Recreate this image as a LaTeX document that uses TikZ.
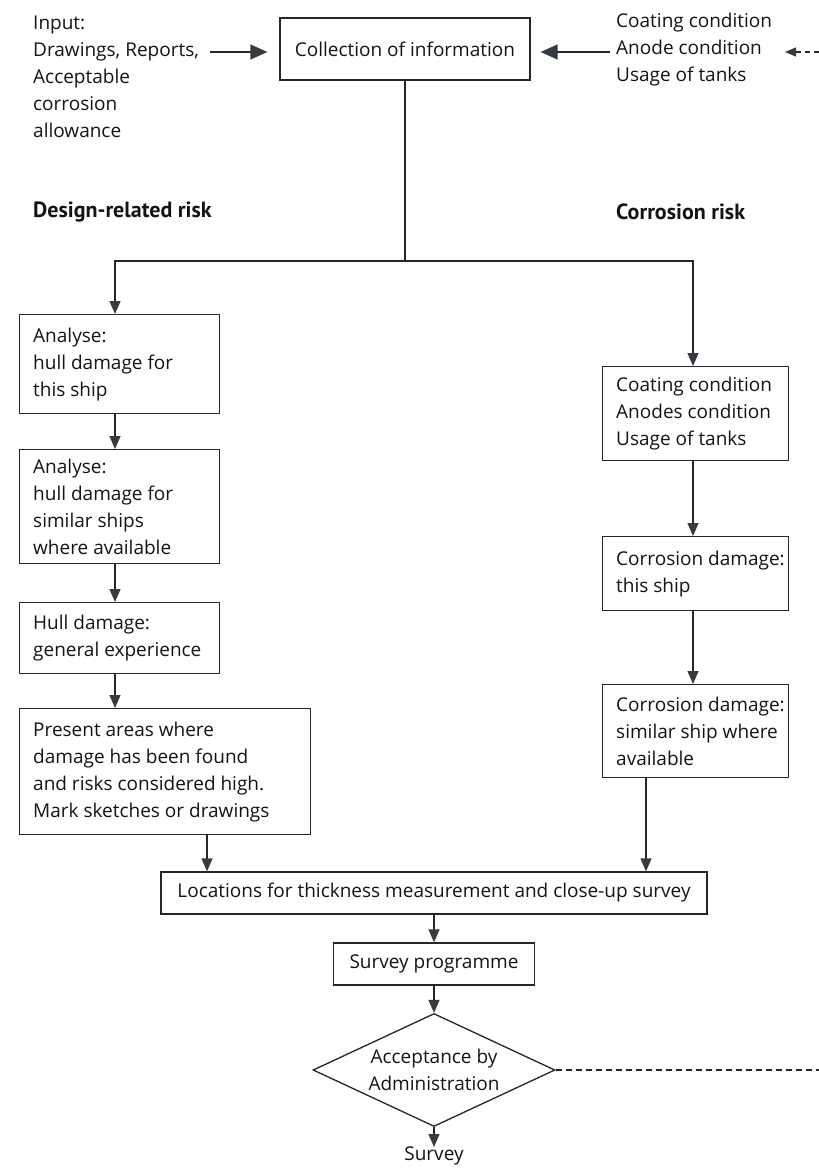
\documentclass[tikz,border=0pt]{standalone}
\usepackage{fontspec}
\setmainfont{Open Sans}
\newfontfamily\headfont{PT Sans}
\usetikzlibrary{arrows.meta,shapes.geometric}
\definecolor{linec}{HTML}{262626}
\definecolor{headc}{HTML}{353B40}
\begin{document}
\begin{tikzpicture}[x=1pt,y=-1pt,
  every node/.style={font=\fontsize{19}{27}\selectfont, text=black!92},
  rect/.style={draw=linec, line width=1.3pt, inner sep=0pt, anchor=north west},
  intext/.style={anchor=west, inner sep=0pt, align=left, xshift=14pt},
  cbox/.style={draw=linec, line width=1.3pt, inner sep=0pt, align=center},
  conn/.style={draw=linec, line width=1.3pt},
  arr/.style={conn, -{Triangle[length=13pt,width=11pt,color=headc]}},
  bigarr/.style={conn, -{Triangle[length=17pt,width=15pt,color=headc]}},
  dasharr/.style={conn, dash pattern=on 5pt off 4pt, -{Triangle[length=11pt,width=9pt,color=headc]}},
  dline/.style={conn, dash pattern=on 6pt off 4pt},
  head/.style={anchor=west, inner sep=0pt, font=\headfont\fontsize{22}{27}\selectfont\bfseries},
  plain/.style={anchor=west, inner sep=0pt, align=left}
]
\useasboundingbox (0,0) rectangle (819,1175);
\fill[white] (0,0) rectangle (819,1175);

% top row
\node[cbox, minimum width=250pt, minimum height=62pt] (coll) at (405,49) {Collection of information};
\node[plain] (inp) at (33,77) {Input:\\Drawings, Reports,\\Acceptable\\corrosion\\allowance};
\node[plain] (cor) at (616,50) {Coating condition\\Anode condition\\Usage of tanks};
\coordinate (inpA) at (210,52);
\coordinate (corA) at (610,52);
\coordinate (rEdge) at (819,52);
\coordinate (rTip) at (785,52);
\draw[bigarr, shorten >=12pt] (inpA) -- (coll.west |- inpA);
\draw[bigarr, shorten >=10pt] (corA) -- (coll.east |- corA);
\draw[dasharr] (rEdge) -- (rTip);

% headings
\node[head] (hd) at (33,212) {Design-related risk};
\node[head] (hc) at (616,212) {Corrosion risk};

% left column
\node[rect, minimum width=200pt, minimum height=99pt] (b1) at (19,314) {};
\node[intext] (b1t) at (b1.west) {Analyse:\\hull damage for\\this ship};
\node[rect, minimum width=200pt, minimum height=114pt] (b2) at (19,449) {};
\node[intext] (b2t) at (b2.west) {Analyse:\\hull damage for\\similar ships\\where available};
\node[rect, minimum width=200pt, minimum height=71pt] (b3) at (19,602) {};
\node[intext] (b3t) at (b3.west) {Hull damage:\\general experience};
\node[rect, minimum width=291pt, minimum height=126pt] (b4) at (19,708) {};
\node[intext] (b4t) at (b4.west) {Present areas where\\damage has been found\\and risks considered high.\\Mark sketches or drawings};

% right column
\node[rect, minimum width=186pt, minimum height=94pt] (rA) at (602,366) {};
\node[intext] (rAt) at (rA.west) {Coating condition\\Anodes condition\\Usage of tanks};
\node[rect, minimum width=186pt, minimum height=74pt] (rB) at (602,536) {};
\node[intext] (rBt) at (rB.west) {Corrosion damage:\\this ship};
\node[rect, minimum width=186pt, minimum height=93pt] (rC) at (602,684) {};
\node[intext] (rCt) at (rC.west) {Corrosion damage:\\similar ship where\\available};

% bottom
\node[cbox, minimum width=546pt, minimum height=42pt] (loc) at (434,893) {Locations for thickness measurement and close-up survey};
\node[cbox, minimum width=201pt, minimum height=42pt] (sp) at (434,964) {Survey programme};
\node[diamond, draw=linec, line width=1.3pt, aspect=2.14, inner sep=0pt, minimum width=242pt, minimum height=113pt, align=center] (dia) at (434,1070) {Acceptance by\\Administration};
\node[anchor=north, inner sep=0pt] (sv) at (434,1147) {Survey};
\coordinate (dEdge) at (819,1070);

% connectors
\coordinate (jy) at (0,261);
\coordinate (jl) at (115,261);
\coordinate (jr) at (693,261);
\coordinate (xl2) at (207,0);
\coordinate (xr2) at (646,0);
\draw[conn] (coll.south) -- (coll.south |- jy);
\draw[arr] (coll.south |- jy) -- (jl) -- (jl |- b1.north);
\draw[arr] (coll.south |- jy) -- (jr) -- (jr |- rA.north);
\draw[arr] (b1.south -| jl) -- (b2.north -| jl);
\draw[arr] (b2.south -| jl) -- (b3.north -| jl);
\draw[arr] (b3.south -| jl) -- (b4.north -| jl);
\draw[arr] (b4.south -| xl2) -- (loc.north -| xl2);
\draw[arr] (rA.south -| jr) -- (rB.north -| jr);
\draw[arr] (rB.south -| jr) -- (rC.north -| jr);
\draw[arr] (rC.south -| xr2) -- (loc.north -| xr2);
\draw[arr] (loc.south) -- (sp.north);
\draw[arr] (sp.south) -- (dia.north);
\draw[arr] (dia.south) -- (sv.north);
\draw[dline] (dia.east) -- (dEdge);
\end{tikzpicture}
\end{document}
